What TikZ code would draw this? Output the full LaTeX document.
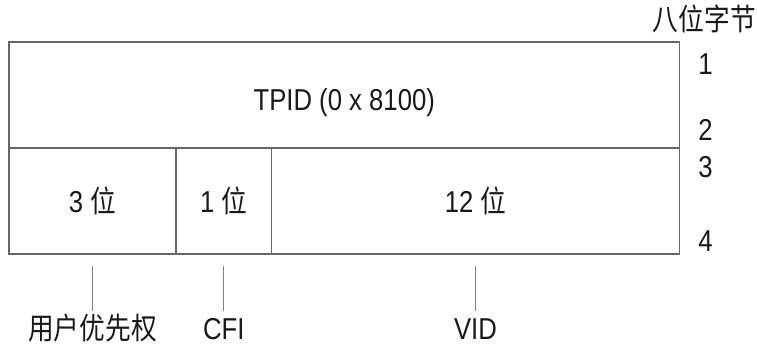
\documentclass[tikz,border=0pt]{standalone}
\usepackage{fontspec}
\setmainfont{Liberation Sans}[FakeStretch=0.85]
\newfontfamily\cjk{Noto Sans CJK SC}[FakeStretch=0.85]
\newcommand{\zh}[1]{{\cjk #1}}
\usepackage{tikz}

\begin{document}
\begin{tikzpicture}[
    font=\fontsize{21.5}{26}\selectfont,
    every node/.style={text=black!90, inner sep=0pt},
    field/.style={draw=black!60, line width=0.9pt, text depth=0pt},
    leader/.style={draw=black!50, line width=0.6pt},
    fieldname/.style={anchor=north, text height=0.7cm, text depth=0pt}
]
    \useasboundingbox (0,0) rectangle (18.925,8.6);

    % tag fields
    \node[field, minimum width=16.7625cm, minimum height=2.65cm, text height=0.8cm] at (8.606, 6.225) (tpid) {TPID (0 x 8100)};
    \node[field, minimum width=4.175cm, minimum height=2.65cm, text height=0.6cm] at (2.3125, 3.575) (pri) {3 \zh{位}};
    \node[field, minimum width=2.3875cm, minimum height=2.65cm, text height=0.6cm] at (5.594, 3.575) (cfi) {1 \zh{位}};
    \node[field, minimum width=10.2cm, minimum height=2.65cm, text height=0.6cm] at (11.8875, 3.575) (vid) {12 \zh{位}};

    % octets
    \node[anchor=base east] at (18.9, 7.825) (octet) {\zh{八位字节}};
    \node[anchor=base west] at (17.45, 6.725) (o1) {1};
    \node[anchor=base west] at (17.45, 5.075) (o2) {2};
    \node[anchor=base west] at (17.45, 4.15) (o3) {3};
    \node[anchor=base west] at (17.45, 2.3) (o4) {4};

    % names
    \node[fieldname] at (2.3125, 0.82) (npri) {\zh{用户优先权}};
    \node[fieldname] at (5.594, 0.82) (ncfi) {CFI};
    \node[fieldname] at (11.8875, 0.82) (nvid) {VID};

    \draw[leader, shorten <=0.275cm] (pri.south) -- (npri.north);
    \draw[leader, shorten <=0.275cm] (cfi.south) -- (ncfi.north);
    \draw[leader, shorten <=0.275cm] (vid.south) -- (nvid.north);
\end{tikzpicture}
\end{document}
